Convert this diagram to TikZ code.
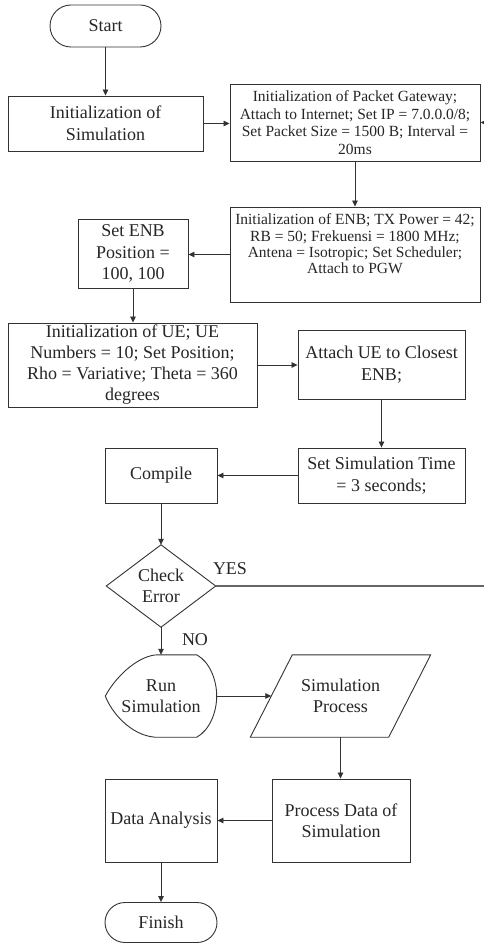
\documentclass[tikz,border=0pt]{standalone}
\usepackage{fontspec}
\setmainfont{Liberation Serif}
\usetikzlibrary{arrows.meta,calc}
\begin{document}
\begin{tikzpicture}[x=1pt,y=-1pt,
  bigfont/.style={font=\fontsize{18}{21.5}\selectfont},
  shapeline/.style={draw=black!80, line width=0.9pt},
  box/.style={shapeline, rectangle, inner sep=0pt, align=center, text=black!85, bigfont},
  plain/.style={inner sep=0pt, align=center, text=black!85, bigfont},
  arr/.style={draw=black!80, line width=0.8pt, -{Triangle[length=6pt,width=5.5pt]}},
  yesline/.style={draw=black!60, line width=1.3pt}
]
\useasboundingbox (0,0) rectangle (484,944);
\fill[white] (0,0) rectangle (484,944);

\node[box, rounded corners=21pt, minimum width=111pt, minimum height=42pt] (start) at (105.5,26) {Start};
\node[box, minimum width=195pt, minimum height=55pt] (init) at (105.5,123.5) {Initialization of\\Simulation};
\node[box, minimum width=250pt, minimum height=77pt, font=\fontsize{15.5}{17.5}\selectfont] (pgw) at (355,122.5) {Initialization of Packet Gateway;\\Attach to Internet; Set IP = 7.0.0.0/8;\\Set Packet Size = 1500 B; Interval =\\20ms};
\node[box, minimum width=250pt, minimum height=95pt] (enb) at (355,254.5) {};
\node[plain, font=\fontsize{15.5}{16.3}\selectfont] (enbtxt) at (355,244) {Initialization of ENB; TX Power = 42;\\RB = 50; Frekuensi = 1800 MHz;\\Antena = Isotropic; Set Scheduler;\\Attach to PGW};
\node[box, minimum width=110pt, minimum height=69pt] (setenb) at (133,253.5) {Set ENB\\Position =\\100, 100};
\node[box, minimum width=249pt, minimum height=84pt, font=\fontsize{18}{21}\selectfont] (ue) at (132.5,365) {Initialization of UE; UE\\Numbers = 10; Set Position;\\Rho = Variative; Theta = 360\\degrees};
\node[box, minimum width=167pt, minimum height=69pt] (attach) at (381.5,364.5) {Attach UE to Closest\\ENB;};
\node[box, minimum width=167pt, minimum height=55pt] (settime) at (381.5,475.5) {Set Simulation Time\\= 3 seconds;};
\node[box, minimum width=112pt, minimum height=55pt] (compile) at (161,475.5) {Compile};

\node[plain, minimum width=109pt, minimum height=82pt] (chk) at (161,586) {Check\\Error};
\draw[shapeline] (chk.north) -- (chk.east) -- (chk.south) -- (chk.west) -- cycle;

\node[plain, minimum width=111pt, minimum height=82pt] (run) at (161,696) {Run\\Simulation};
\draw[shapeline] ($(run.north)+(-3,0)$) -- ($(run.north east)+(-20,0)$)
  .. controls ($(run.north east)+(-7,7)$) and ($(run.east)+(0,-16)$) .. (run.east)
  .. controls ($(run.east)+(0,16)$) and ($(run.south east)+(-7,-7)$) .. ($(run.south east)+(-20,0)$)
  -- ($(run.south)+(-6,0)$)
  .. controls ($(run.south west)+(25,-2)$) and ($(run.west)+(6,16)$) .. (run.west)
  .. controls ($(run.west)+(12,-22)$) and ($(run.north west)+(35,0)$) .. cycle;

\node[plain, minimum width=180pt, minimum height=82pt] (sp) at (340.5,696) {Simulation\\Process};
\draw[shapeline] ($(sp.north west)+(42,0)$) -- (sp.north east) -- ($(sp.south east)+(-42,0)$) -- (sp.south west) -- cycle;
\coordinate (spL) at ($(sp.west)+(21,0)$);

\node[box, minimum width=138pt, minimum height=83pt] (proc) at (341,820.5) {Process Data of\\Simulation};
\node[box, minimum width=112pt, minimum height=83pt] (da) at (161,820.5) {Data Analysis};
\node[box, rounded corners=20pt, minimum width=112pt, minimum height=40pt] (finish) at (161,922.5) {Finish};

\node[plain] (yes) at (230,569) {YES};
\node[plain] (no) at (195,640) {NO};

\coordinate (yesend) at (484,586);
\coordinate (pgwin) at (488,122.5);

\draw[arr] (start) -- (init);
\draw[arr] (init.east) -- (init.east -| pgw.west);
\draw[arr] (pgw.south) -- (enb.north);
\draw[arr] (enb.west) -- (enb.west -| setenb.east);
\draw[arr] (setenb.south) -- (setenb.south |- ue.north);
\draw[arr] (ue.east) -- (ue.east -| attach.west);
\draw[arr] (attach.south) -- (settime.north);
\draw[arr] (settime.west) -- (compile.east);
\draw[arr] (compile.south) -- (chk.north);
\draw[yesline] (chk.east) -- (yesend);
\draw[arr] (chk.south) -- (run.north);
\draw[arr] (run.east) -- (spL);
\draw[arr] (sp.south) -- (sp.south |- proc.north);
\draw[arr] (proc.west) -- (da.east);
\draw[arr] (da.south) -- (finish.north);
\draw[arr] (pgwin) -- (pgw.east);
\end{tikzpicture}
\end{document}
